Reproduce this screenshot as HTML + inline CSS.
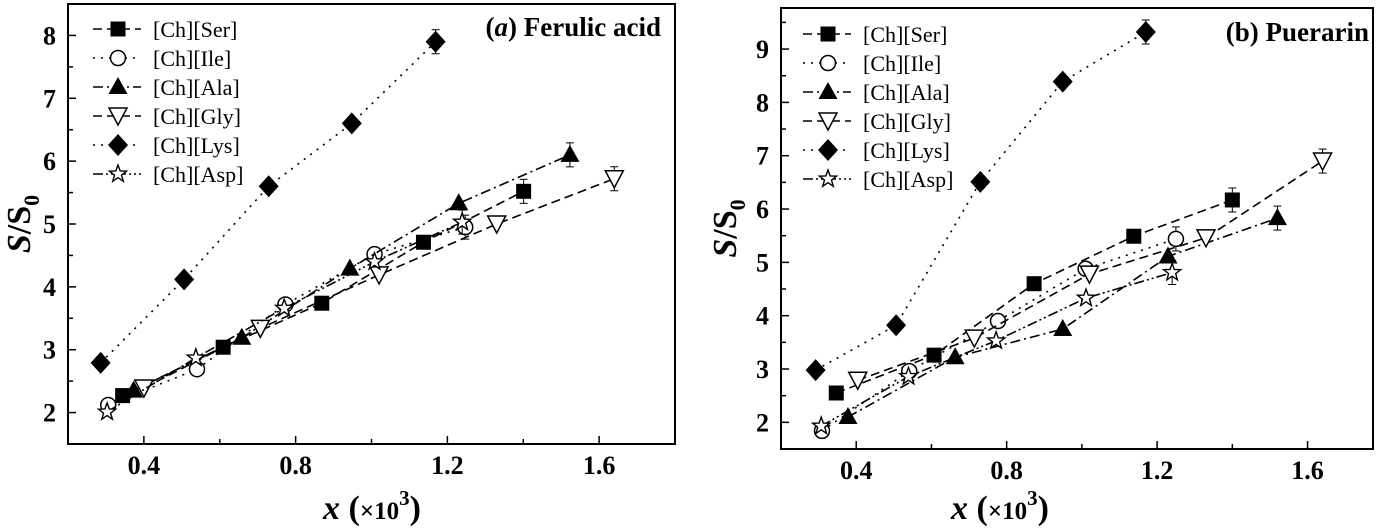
<!DOCTYPE html>
<html><head><meta charset="utf-8"><style>
body{margin:0;background:#fff;}
svg{display:block;font-family:"Liberation Serif",serif;}
</style></head><body>
<svg id="chart" width="1382" height="532" viewBox="0 0 1382 532" xmlns="http://www.w3.org/2000/svg"></svg>
<script>
const seriesNames = ["[Ch][Ser]","[Ch][Ile]","[Ch][Ala]","[Ch][Gly]","[Ch][Lys]","[Ch][Asp]"];
// Panel A: Ferulic acid
const aSerX=[0.344,0.609,0.869,1.137,1.401], aSerY=[2.27,3.04,3.74,4.71,5.52];
const aIleX=[0.306,0.540,0.773,1.008,1.247], aIleY=[2.12,2.69,3.72,4.52,4.95];
const aAlaX=[0.373,0.658,0.943,1.230,1.523], aAlaY=[2.35,3.19,4.29,5.33,6.10];
const aGlyX=[0.400,0.707,1.020,1.330,1.640], aGlyY=[2.39,3.34,4.19,5.00,5.72];
const aLysX=[0.286,0.506,0.729,0.948,1.169], aLysY=[2.79,4.12,5.60,6.60,7.90];
const aAspX=[0.303,0.537,0.770,1.008,1.239], aAspY=[2.01,2.87,3.66,4.40,5.03];
// Panel B: Puerarin
const bSerX=[0.347,0.607,0.873,1.138,1.400], bSerY=[2.55,3.26,4.60,5.49,6.17];
const bIleX=[0.309,0.541,0.777,1.010,1.250], bIleY=[1.84,2.96,3.90,4.88,5.44];
const bAlaX=[0.378,0.663,0.949,1.229,1.520], bAlaY=[2.10,3.22,3.75,5.11,5.83];
const bGlyX=[0.404,0.714,1.020,1.330,1.640], bGlyY=[2.79,3.58,4.78,5.46,6.90];
const bLysX=[0.292,0.506,0.730,0.949,1.170], bLysY=[2.98,3.82,6.51,8.39,9.32];
const bAspX=[0.307,0.539,0.772,1.011,1.240], bAspY=[1.93,2.86,3.53,4.33,4.81];
const xTicks=[0.4,0.8,1.2,1.6];
const aYTicks=[2,3,4,5,6,7,8];
const bYTicks=[2,3,4,5,6,7,8,9];

const NS="http://www.w3.org/2000/svg";
const svg=document.getElementById('chart');
function mk(tag,attrs,parent){const e=document.createElementNS(NS,tag);for(const k in attrs)e.setAttribute(k,attrs[k]);(parent||svg).appendChild(e);return e;}
const dashes=["9,5","2,6","10,4,2,4","9,5","2,6","10,3,2,3,2,3"];
const markers=["square","circle","tri","itri","diamond","star"];

function marker(g,type,cx,cy){
  let e;
  if(type==="square"){e=mk('rect',{x:cx-7.5,y:cy-7.5,width:15,height:15,fill:'#000'},g);}
  else if(type==="circle"){e=mk('circle',{cx:cx,cy:cy,r:7.5,fill:'#fff',stroke:'#000','stroke-width':1.5},g);}
  else if(type==="tri"){e=mk('polygon',{points:`${cx},${cy-10} ${cx-9.5},${cy+7} ${cx+9.5},${cy+7}`,fill:'#000'},g);}
  else if(type==="itri"){e=mk('polygon',{points:`${cx-9},${cy-8} ${cx+9},${cy-8} ${cx},${cy+9}`,fill:'#fff',stroke:'#000','stroke-width':1.5},g);}
  else if(type==="diamond"){e=mk('polygon',{points:`${cx},${cy-11} ${cx+10},${cy} ${cx},${cy+11} ${cx-10},${cy}`,fill:'#000'},g);}
  else {let p=[];for(let i=0;i<10;i++){const r=i%2?3.7:9;const a=-Math.PI/2+i*Math.PI/5;p.push((cx+r*Math.cos(a)).toFixed(1)+","+(cy+r*Math.sin(a)).toFixed(1));}
    e=mk('polygon',{points:p.join(' '),fill:'#fff',stroke:'#000','stroke-width':1.4},g);}
  return e;
}

function panel(cfg){
  const {L,R,T,B,x0,x1,y0,y1,yTicks,data,title,titleX,titleY,ylabX,legX,legY,legStep,id,xlabX}=cfg;
  const g=mk('g',{});
  
  
  const sx=v=>L+(v-x0)/(x1-x0)*(R-L);
  const sy=v=>B-(v-y0)/(y1-y0)*(B-T);
  const fr=mk('rect',{x:L,y:T,width:R-L,height:B-T,fill:'none',stroke:'#000','stroke-width':2},g);
  
  
  for(let v=0.2;v<=x1+1e-6;v+=0.2){const major=xTicks.some(t=>Math.abs(t-v)<1e-6);
    mk('line',{x1:sx(v),x2:sx(v),y1:B,y2:B-(major?8:5),stroke:'#000','stroke-width':1.5},g);}
  xTicks.forEach(t=>{const e=mk('text',{x:sx(t),y:B+30,'text-anchor':'middle','font-size':26,'font-weight':'bold'},g);e.textContent=t.toFixed(1);
    
    });
  for(let v=2;v<=y1;v+=0.5){const major=Number.isInteger(v);
    mk('line',{x1:L,x2:L+(major?8:5),y1:sy(v),y2:sy(v),stroke:'#000','stroke-width':1.5},g);}
  yTicks.forEach(t=>{const e=mk('text',{x:L-12,y:sy(t)+9,'text-anchor':'end','font-size':26,'font-weight':'bold'},g);e.textContent=t;
    
    });
  const yt=mk('text',{transform:`translate(${ylabX},${(T+B)/2}) rotate(-90)`,'text-anchor':'middle','font-size':34,'font-weight':'bold'},g);
  yt.innerHTML='<tspan font-style="italic">S</tspan>/S<tspan font-size="22" dy="9">0</tspan>';
  
  
  const xt=mk('text',{x:xlabX,y:519,'text-anchor':'middle','font-size':34,'font-weight':'bold'},g);
  xt.innerHTML='<tspan font-style="italic">x</tspan> (<tspan font-size="25">×10</tspan><tspan font-size="21" dy="-14">3</tspan><tspan dy="14">)</tspan>';
  
  
  const tt=mk('text',{x:titleX,y:titleY,'text-anchor':'end','font-size':27,'font-weight':'bold'},g);
  tt.innerHTML=title;
  
  
  data.forEach((d,i)=>{
    const sg=mk('g',{},g);
    
    
    const pts=d[0].map((x,j)=>sx(x).toFixed(1)+","+sy(d[1][j]).toFixed(1)).join(' ');
    mk('polyline',{points:pts,fill:'none',stroke:'#000','stroke-width':1.6,'stroke-dasharray':dashes[i]},sg);
    const last=d[0].length-1;
    const ex=sx(d[0][last]),ey=sy(d[1][last]);
    mk('line',{x1:ex,x2:ex,y1:ey-12,y2:ey+12,stroke:'#000','stroke-width':1},sg);
    mk('line',{x1:ex-4,x2:ex+4,y1:ey-12,y2:ey-12,stroke:'#000','stroke-width':1},sg);
    mk('line',{x1:ex-4,x2:ex+4,y1:ey+12,y2:ey+12,stroke:'#000','stroke-width':1},sg);
    d[0].forEach((x,j)=>{const m=marker(sg,markers[i],sx(x),sy(d[1][j]));
      
      });
    const lg=mk('g',{},g);
    
    
    const ly=legY+i*legStep;
    mk('line',{x1:legX,x2:legX+48,y1:ly,y2:ly,stroke:'#000','stroke-width':1.6,'stroke-dasharray':dashes[i]},lg);
    marker(lg,markers[i],legX+25,ly);
    const lt=mk('text',{x:legX+60,y:ly+8,'font-size':22},lg);lt.textContent=seriesNames[i];
  });
}
panel({id:'ferulic',L:68,R:675,T:4,B:444,x0:0.2,x1:1.8,y0:1.5,y1:8.5,yTicks:aYTicks,
  data:[[aSerX,aSerY],[aIleX,aIleY],[aAlaX,aAlaY],[aGlyX,aGlyY],[aLysX,aLysY],[aAspX,aAspY]],
  title:'(<tspan font-style="italic">a</tspan>) Ferulic acid',titleX:661,titleY:36,ylabX:30,legX:93,legY:29,legStep:29,xlabX:372});
panel({id:'puerarin',L:781,R:1373,T:8,B:449,x0:0.2,x1:1.774,y0:1.5,y1:9.77,yTicks:bYTicks,
  data:[[bSerX,bSerY],[bIleX,bIleY],[bAlaX,bAlaY],[bGlyX,bGlyY],[bLysX,bLysY],[bAspX,bAspY]],
  title:'(b) Puerarin',titleX:1369,titleY:41,ylabX:736,legX:803,legY:34,legStep:29,xlabX:1000});
</script>
</body></html>
